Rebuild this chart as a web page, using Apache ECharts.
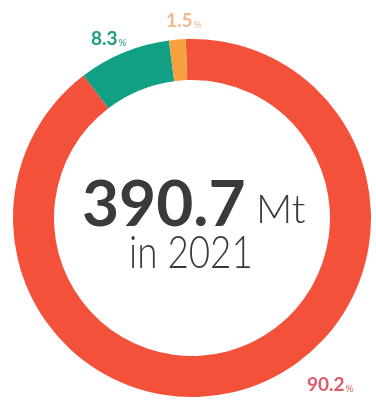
<!DOCTYPE html>
<html>
<head>
<meta charset="utf-8">
<style>
  html, body { margin: 0; padding: 0; background: #ffffff; }
  #chart { width: 376px; height: 403px; }
</style>
<script src="https://cdn.jsdelivr.net/npm/echarts@6/dist/echarts.min.js"></script>
</head>
<body>
<div id="chart"></div>
<script>
// Shares of the total, in drawing order (clockwise)
const categories = ['Main', 'Second', 'Third'];
const shares = [90.2, 8.3, 1.5];
const totalValue = '390.7';
const totalUnit = 'Mt';
const yearLabel = 'in 2021';

const sliceColors = ['#f4513a', '#12a085', '#f6a03f'];
const labelColors = ['#dc5a68', '#1f9a80', '#f3b98a'];
// label anchor points (left edge, vertical middle)
const labelSpots = [[307, 385], [91, 39], [166, 21]];

const chart = echarts.init(document.getElementById('chart'), null, { renderer: 'canvas' });

chart.setOption({
  animation: false,
  series: [{
    type: 'pie',
    center: [192, 218],
    radius: [138, 179],
    startAngle: 92,
    clockwise: true,
    silent: true,
    data: categories.map((name, i) => ({
      name: name,
      value: shares[i],
      itemStyle: { color: sliceColors[i] },
      label: {
        rich: {
          v: { fontFamily: 'Lato', fontWeight: 700, fontSize: 19, color: labelColors[i] },
          p: { fontFamily: 'Lato', fontWeight: 400, fontSize: 10, color: labelColors[i], padding: [7, 0, 0, 1] }
        }
      }
    })),
    label: {
      show: true,
      position: 'outside',
      formatter: p => '{v|' + p.value.toFixed(1) + '}{p|%}'
    },
    labelLine: { show: false },
    labelLayout: p => ({
      x: labelSpots[p.dataIndex][0],
      y: labelSpots[p.dataIndex][1],
      align: 'left',
      verticalAlign: 'middle'
    })
  }],
  graphic: [
    {
      type: 'text',
      left: 82, top: 173,
      style: { text: totalValue, font: '700 64px Lato', fill: '#3a3a3a' }
    },
    {
      type: 'text',
      left: 256, top: 190,
      style: { text: totalUnit, font: '300 40px Lato', fill: '#3a3a3a' }
    },
    {
      type: 'text',
      left: 129, top: 230,
      scaleX: 0.8,
      style: { text: yearLabel, font: '300 46px Lato', fill: '#3a3a3a' }
    }
  ]
});
</script>
</body>
</html>
